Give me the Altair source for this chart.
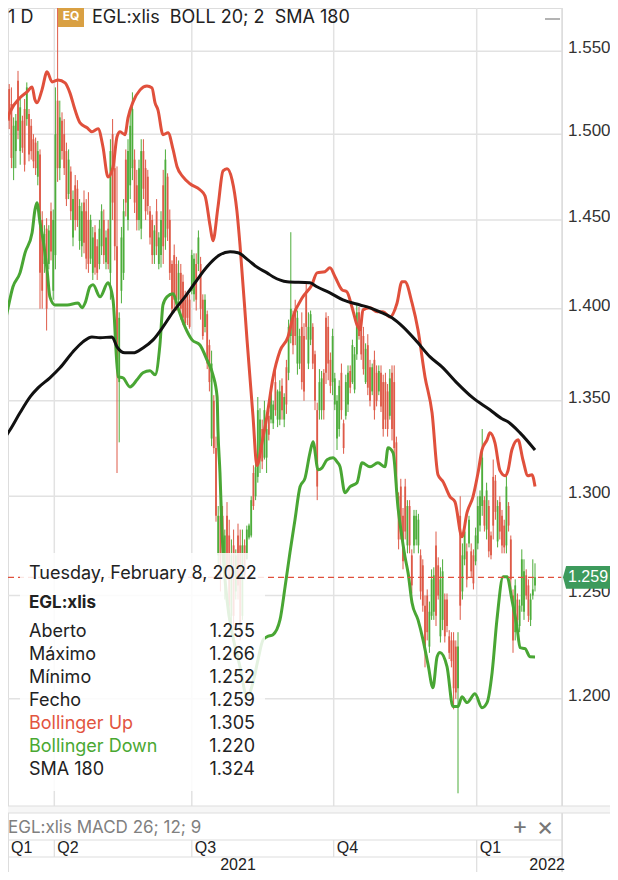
import altair as alt
import pandas as pd

# ---------------- data ----------------
OPEN = [1.505, 1.500, 1.520, 1.512, 1.527, 1.518, 1.480, 1.490, 1.532, 1.490,
        1.508, 1.515, 1.509, 1.512, 1.505, 1.497, 1.495, 1.475, 1.488, 1.450,
        1.425, 1.445, 1.425, 1.455, 1.410, 1.430, 1.520, 1.480, 1.508, 1.500,
        1.490, 1.465, 1.478, 1.440, 1.470, 1.468, 1.438, 1.435, 1.460, 1.455,
        1.450, 1.428, 1.420, 1.443, 1.435, 1.425, 1.435, 1.450, 1.426, 1.445,
        1.420, 1.500, 1.480, 1.435, 1.360, 1.410, 1.420, 1.485, 1.450, 1.470,
        1.480, 1.485, 1.470, 1.450, 1.445, 1.490, 1.480, 1.475, 1.455, 1.450,
        1.430, 1.455, 1.425, 1.430, 1.470, 1.440, 1.475, 1.450, 1.425, 1.430,
        1.425, 1.405, 1.420, 1.415, 1.405, 1.408, 1.405, 1.410, 1.408, 1.425,
        1.425, 1.425, 1.405, 1.390, 1.397, 1.380, 1.330, 1.350, 1.325, 1.270,
        1.290, 1.290, 1.255, 1.290, 1.280, 1.240, 1.275, 1.252, 1.280, 1.275,
        1.240, 1.275, 1.268, 1.279, 1.280, 1.312, 1.300, 1.310, 1.320, 1.335,
        1.320, 1.320, 1.342, 1.340, 1.338, 1.360, 1.340, 1.340, 1.358, 1.340,
        1.368, 1.365, 1.385, 1.395, 1.400, 1.370, 1.370, 1.390, 1.385, 1.410,
        1.370, 1.383, 1.390, 1.375, 1.345, 1.345, 1.345, 1.365, 1.395, 1.390,
        1.372, 1.360, 1.348, 1.330, 1.335, 1.365, 1.338, 1.342, 1.348, 1.366,
        1.360, 1.356, 1.375, 1.398, 1.390, 1.385, 1.360, 1.380, 1.368, 1.355,
        1.372, 1.365, 1.355, 1.365, 1.360, 1.360, 1.355, 1.342, 1.365, 1.360,
        1.328, 1.300, 1.305, 1.290, 1.305, 1.275, 1.295, 1.270, 1.275, 1.278,
        1.275, 1.270, 1.265, 1.245, 1.250, 1.225, 1.240, 1.242, 1.275, 1.265,
        1.230, 1.238, 1.248, 1.248, 1.230, 1.228, 1.228, 1.225, 1.205, 1.290,
        1.252, 1.268, 1.272, 1.276, 1.272, 1.270, 1.267, 1.276, 1.285, 1.295,
        1.298, 1.283, 1.295, 1.280, 1.310, 1.308, 1.277, 1.297, 1.290, 1.285,
        1.275, 1.295, 1.278, 1.250, 1.232, 1.248, 1.235, 1.245, 1.242, 1.260,
        1.255, 1.238, 1.250, 1.255]
HIGH = [1.515, 1.585, 1.525, 1.522, 1.530, 1.528, 1.510, 1.512, 1.538, 1.521,
        1.511, 1.521, 1.531, 1.515, 1.509, 1.500, 1.498, 1.496, 1.491, 1.455,
        1.447, 1.451, 1.447, 1.460, 1.456, 1.528, 1.585, 1.520, 1.513, 1.509,
        1.495, 1.491, 1.481, 1.467, 1.476, 1.473, 1.462, 1.460, 1.467, 1.462,
        1.466, 1.453, 1.446, 1.447, 1.439, 1.450, 1.459, 1.456, 1.444, 1.450,
        1.497, 1.509, 1.491, 1.481, 1.398, 1.446, 1.462, 1.491, 1.497, 1.515,
        1.525, 1.491, 1.479, 1.485, 1.497, 1.497, 1.485, 1.479, 1.458, 1.453,
        1.447, 1.462, 1.443, 1.455, 1.479, 1.491, 1.477, 1.456, 1.427, 1.436,
        1.429, 1.427, 1.425, 1.419, 1.410, 1.410, 1.408, 1.433, 1.431, 1.431,
        1.444, 1.429, 1.408, 1.408, 1.399, 1.383, 1.377, 1.353, 1.331, 1.295,
        1.297, 1.295, 1.283, 1.297, 1.288, 1.278, 1.283, 1.273, 1.286, 1.283,
        1.283, 1.278, 1.285, 1.286, 1.300, 1.316, 1.319, 1.352, 1.346, 1.340,
        1.350, 1.340, 1.345, 1.358, 1.350, 1.367, 1.356, 1.361, 1.362, 1.354,
        1.372, 1.394, 1.443, 1.399, 1.405, 1.399, 1.389, 1.398, 1.392, 1.414,
        1.398, 1.399, 1.392, 1.377, 1.349, 1.367, 1.366, 1.367, 1.398, 1.396,
        1.376, 1.389, 1.365, 1.353, 1.361, 1.370, 1.340, 1.364, 1.369, 1.369,
        1.383, 1.379, 1.403, 1.401, 1.394, 1.390, 1.381, 1.386, 1.372, 1.370,
        1.377, 1.369, 1.369, 1.369, 1.364, 1.365, 1.359, 1.367, 1.369, 1.369,
        1.331, 1.302, 1.309, 1.294, 1.309, 1.298, 1.298, 1.273, 1.293, 1.293,
        1.291, 1.273, 1.268, 1.250, 1.253, 1.247, 1.263, 1.264, 1.282, 1.269,
        1.264, 1.268, 1.251, 1.251, 1.233, 1.232, 1.232, 1.228, 1.232, 1.300,
        1.276, 1.286, 1.276, 1.290, 1.276, 1.273, 1.284, 1.300, 1.303, 1.335,
        1.300, 1.307, 1.298, 1.282, 1.319, 1.311, 1.298, 1.300, 1.293, 1.288,
        1.311, 1.297, 1.280, 1.253, 1.258, 1.251, 1.248, 1.273, 1.268, 1.263,
        1.258, 1.251, 1.268, 1.266]
LOW = [1.462, 1.495, 1.488, 1.471, 1.503, 1.480, 1.473, 1.480, 1.497, 1.482,
       1.489, 1.478, 1.505, 1.484, 1.485, 1.480, 1.476, 1.470, 1.400, 1.400,
       1.420, 1.388, 1.422, 1.427, 1.405, 1.422, 1.472, 1.473, 1.485, 1.476,
       1.458, 1.462, 1.450, 1.435, 1.444, 1.446, 1.433, 1.429, 1.431, 1.422,
       1.420, 1.425, 1.416, 1.419, 1.416, 1.422, 1.430, 1.425, 1.422, 1.422,
       1.405, 1.450, 1.427, 1.312, 1.328, 1.403, 1.416, 1.452, 1.444, 1.462,
       1.473, 1.454, 1.444, 1.444, 1.439, 1.462, 1.450, 1.453, 1.436, 1.425,
       1.425, 1.430, 1.422, 1.423, 1.425, 1.433, 1.438, 1.416, 1.398, 1.398,
       1.399, 1.402, 1.394, 1.391, 1.390, 1.391, 1.389, 1.408, 1.404, 1.399,
       1.421, 1.394, 1.383, 1.387, 1.367, 1.355, 1.326, 1.322, 1.287, 1.264,
       1.252, 1.268, 1.248, 1.258, 1.238, 1.236, 1.233, 1.248, 1.248, 1.228,
       1.238, 1.258, 1.268, 1.278, 1.279, 1.293, 1.298, 1.307, 1.312, 1.314,
       1.319, 1.312, 1.329, 1.338, 1.335, 1.342, 1.336, 1.337, 1.340, 1.336,
       1.343, 1.361, 1.381, 1.375, 1.380, 1.364, 1.367, 1.356, 1.350, 1.383,
       1.367, 1.380, 1.367, 1.345, 1.298, 1.340, 1.340, 1.340, 1.359, 1.361,
       1.354, 1.353, 1.345, 1.324, 1.331, 1.340, 1.322, 1.340, 1.344, 1.354,
       1.359, 1.354, 1.372, 1.383, 1.372, 1.364, 1.359, 1.353, 1.347, 1.353,
       1.340, 1.347, 1.353, 1.344, 1.331, 1.335, 1.331, 1.340, 1.329, 1.319,
       1.302, 1.273, 1.278, 1.263, 1.278, 1.271, 1.271, 1.251, 1.271, 1.275,
       1.271, 1.248, 1.242, 1.215, 1.228, 1.222, 1.238, 1.238, 1.235, 1.248,
       1.227, 1.233, 1.227, 1.232, 1.219, 1.215, 1.195, 1.200, 1.156, 1.238,
       1.248, 1.265, 1.254, 1.274, 1.259, 1.253, 1.265, 1.273, 1.282, 1.290,
       1.282, 1.278, 1.269, 1.268, 1.278, 1.288, 1.274, 1.278, 1.271, 1.271,
       1.271, 1.282, 1.253, 1.222, 1.228, 1.235, 1.232, 1.242, 1.238, 1.248,
       1.237, 1.235, 1.248, 1.252]
CLOSE = [1.470, 1.560, 1.495, 1.478, 1.508, 1.486, 1.505, 1.508, 1.502, 1.516,
         1.492, 1.482, 1.528, 1.488, 1.490, 1.484, 1.480, 1.490, 1.420, 1.410,
         1.442, 1.400, 1.444, 1.432, 1.450, 1.500, 1.480, 1.510, 1.490, 1.480,
         1.462, 1.485, 1.455, 1.462, 1.450, 1.450, 1.458, 1.455, 1.437, 1.428,
         1.425, 1.450, 1.440, 1.423, 1.420, 1.445, 1.455, 1.430, 1.440, 1.425,
         1.490, 1.460, 1.435, 1.370, 1.395, 1.440, 1.455, 1.460, 1.490, 1.505,
         1.515, 1.460, 1.450, 1.480, 1.490, 1.468, 1.455, 1.458, 1.440, 1.430,
         1.444, 1.435, 1.440, 1.450, 1.435, 1.485, 1.445, 1.420, 1.400, 1.405,
         1.405, 1.420, 1.400, 1.395, 1.392, 1.395, 1.390, 1.430, 1.428, 1.405,
         1.440, 1.400, 1.385, 1.405, 1.370, 1.360, 1.370, 1.325, 1.290, 1.290,
         1.260, 1.270, 1.280, 1.262, 1.245, 1.270, 1.240, 1.270, 1.255, 1.235,
         1.275, 1.260, 1.283, 1.285, 1.298, 1.295, 1.315, 1.345, 1.340, 1.318,
         1.345, 1.335, 1.332, 1.355, 1.348, 1.345, 1.355, 1.355, 1.345, 1.352,
         1.348, 1.390, 1.400, 1.380, 1.385, 1.395, 1.385, 1.360, 1.355, 1.390,
         1.390, 1.397, 1.370, 1.350, 1.305, 1.360, 1.362, 1.345, 1.365, 1.370,
         1.358, 1.385, 1.362, 1.350, 1.358, 1.345, 1.325, 1.360, 1.365, 1.357,
         1.380, 1.375, 1.398, 1.385, 1.375, 1.367, 1.378, 1.357, 1.350, 1.368,
         1.345, 1.350, 1.366, 1.347, 1.335, 1.340, 1.335, 1.362, 1.335, 1.325,
         1.305, 1.278, 1.282, 1.267, 1.282, 1.295, 1.275, 1.255, 1.290, 1.290,
         1.288, 1.252, 1.245, 1.225, 1.232, 1.242, 1.258, 1.260, 1.240, 1.250,
         1.258, 1.262, 1.230, 1.235, 1.222, 1.218, 1.205, 1.203, 1.225, 1.245,
         1.270, 1.282, 1.258, 1.288, 1.262, 1.256, 1.280, 1.295, 1.300, 1.320,
         1.285, 1.303, 1.272, 1.270, 1.285, 1.292, 1.295, 1.282, 1.275, 1.274,
         1.305, 1.285, 1.258, 1.228, 1.255, 1.238, 1.245, 1.268, 1.262, 1.250,
         1.240, 1.248, 1.253, 1.259]

# Bollinger upper band (trading-day index, price)
UP_T = [0, 2.1, 4.4, 8.9, 12.1, 14.4, 15.7, 16.6, 18.9, 21.2, 23.5, 26.2, 29.4, 31.6, 33.9,
        36.2, 39.4, 41.6, 44.4, 46.6, 48.9, 51.2, 53.0, 54.4, 56.6, 58.0, 60.3, 63.5, 66.6,
        68.9, 70.3, 71.6, 73.9, 76.2, 78.5, 80.3, 83.0, 86.2, 90.7, 93.0, 95.3, 96.6, 98.9,
        101.2, 103.0, 105.3, 107.5, 108.9, 112.1, 114.8, 116.6, 118.9, 121.2, 123.9, 127.1,
        130.7, 133.0, 137.5, 141.6, 143.9, 147.5, 149.8, 152.1, 155.3, 157.5, 159.8, 162.1,
        163.5, 164.8, 168.0, 171.2, 173.9, 177.1, 180.3, 182.5, 183.9, 187.1, 189.8, 193.0,
        196.2, 198.9, 201.2, 204.4, 206.6, 209.8, 212.1, 214.8, 217.1, 218.9, 221.2, 222.5,
        224.8, 227.1, 229.4, 230.7, 232.5, 235.3, 237.5, 239.8, 241.6, 243.0]
UP_P = [1.4867, 1.5044, 1.5133, 1.5217, 1.5253, 1.5283, 1.5205, 1.5187, 1.5265, 1.5374,
        1.5313, 1.5325, 1.5307, 1.5247, 1.5145, 1.5067, 1.5038, 1.5014, 1.5032, 1.4926,
        1.4749, 1.4808, 1.4985, 1.5014, 1.4997, 1.5097, 1.5193, 1.5265, 1.5289, 1.5277,
        1.5187, 1.5145, 1.4997, 1.5008, 1.4908, 1.4808, 1.4749, 1.4709, 1.4674, 1.4639,
        1.4467, 1.4381, 1.4575, 1.4784, 1.4796, 1.4732, 1.4552, 1.4358, 1.3829, 1.3420,
        1.3158, 1.3277, 1.3420, 1.3623, 1.3769, 1.3845, 1.3955, 1.4066, 1.4133, 1.4200,
        1.4206, 1.4228, 1.4178, 1.4105, 1.4094, 1.4010, 1.3911, 1.3884, 1.3994, 1.4005,
        1.3983, 1.3983, 1.3955, 1.4032, 1.4150, 1.4150, 1.4032, 1.3884, 1.3628, 1.3436,
        1.3111, 1.3075, 1.2997, 1.2972, 1.2793, 1.2916, 1.2997, 1.3121, 1.3241, 1.3293,
        1.3330, 1.3277, 1.3132, 1.3106, 1.3132, 1.3241, 1.3293, 1.3189, 1.3106, 1.3111, 1.305]

# Bollinger lower band
LO_T = [0, 1.2, 3.0, 5.7, 8.9, 11.2, 14.4, 15.7, 16.6, 18.0, 19.4, 21.2, 22.5, 24.8, 30.3,
        35.3, 37.1, 38.5, 40.7, 42.1, 45.3, 48.9, 51.2, 53.5, 55.7, 58.9, 62.1, 64.8, 68.0,
        70.3, 72.5, 73.9, 75.7, 78.5, 80.7, 83.9, 87.1, 90.7, 93.9, 96.6, 98.5, 98.9, 99.8,
        100.7, 103.0, 105.7, 108.9, 112.1, 114.8, 117.1, 119.4, 121.2, 123.9, 127.1, 129.4,
        131.6, 133.9, 136.2, 138.5, 140.7, 142.1, 144.4, 146.2, 148.5, 151.2, 153.0, 154.4,
        156.6, 158.9, 162.1, 164.4, 168.0, 171.6, 174.8, 176.2, 178.5, 180.7, 182.5, 183.9,
        185.3, 187.1, 189.8, 192.1, 194.4, 196.6, 198.5, 199.8, 203.0, 205.7, 208.0, 209.8,
        212.1, 215.7, 218.9, 221.2, 223.5, 225.7, 228.5, 230.3, 232.5, 234.8, 236.2, 238.5,
        240.7, 243.0]
LO_P = [1.3955, 1.3873, 1.3977, 1.4122, 1.4200, 1.4313, 1.4427, 1.4558, 1.4599, 1.4484,
        1.4387, 1.4217, 1.4066, 1.4021, 1.4021, 1.4032, 1.4005, 1.4032, 1.4122, 1.4133,
        1.4066, 1.4144, 1.4049, 1.3628, 1.3623, 1.3574, 1.3612, 1.3650, 1.3661, 1.3639,
        1.3801, 1.4021, 1.4066, 1.4083, 1.4005, 1.3900, 1.3829, 1.3801, 1.3720, 1.3639,
        1.3521, 1.3341, 1.3121, 1.2829, 1.2479, 1.2298, 1.2153, 1.2010, 1.2077, 1.2187,
        1.2283, 1.2298, 1.2308, 1.2381, 1.2543, 1.2713, 1.2880, 1.3049, 1.3095, 1.3225,
        1.3283, 1.3137, 1.3147, 1.3189, 1.3199, 1.3178, 1.3152, 1.3018, 1.3049, 1.3070,
        1.3173, 1.3152, 1.3173, 1.3152, 1.3251, 1.3225, 1.2946, 1.2793, 1.2693, 1.2613,
        1.2464, 1.2381, 1.2283, 1.2163, 1.2053, 1.2201, 1.2221, 1.2153, 1.1963, 1.1963,
        1.2010, 1.1982, 1.2024, 1.1958, 1.1982, 1.2125, 1.2381, 1.2593, 1.2593, 1.2479,
        1.2347, 1.2245, 1.2240, 1.2201, 1.220]

# SMA 180
SMA_T = [0, 4.4, 8.9, 13.5, 17.1, 22.5, 27.1, 33.0, 37.5, 41.6, 45.3, 50.7, 53.0, 56.6,
         60.3, 64.8, 69.4, 73.9, 78.5, 83.9, 89.4, 93.9, 99.8, 104.4, 108.0, 112.5, 117.1,
         121.2, 123.9, 130.3, 140.7, 143.9, 149.8, 155.7, 163.5, 168.0, 172.5, 178.0, 183.0,
         189.4, 195.3, 200.7, 207.5, 214.8, 222.5, 228.0, 230.7, 236.2, 243.0]
SMA_P = [1.3272, 1.3346, 1.3436, 1.3521, 1.3569, 1.3623, 1.3677, 1.3764, 1.3818, 1.3845,
         1.3840, 1.3845, 1.3791, 1.3758, 1.3758, 1.3785, 1.3829, 1.3900, 1.3983, 1.4066,
         1.4161, 1.4234, 1.4302, 1.4319, 1.4313, 1.4273, 1.4228, 1.4200, 1.4178, 1.4150,
         1.4144, 1.4122, 1.4088, 1.4049, 1.4021, 1.4005, 1.3983, 1.3950, 1.3900, 1.3818,
         1.3736, 1.3682, 1.3596, 1.3515, 1.3452, 1.3404, 1.3388, 1.3330, 1.324]

Y_TICKS = [1.200, 1.250, 1.300, 1.350, 1.400, 1.450, 1.500, 1.550]
QTR_T = [24.5, 87.0, 151.5, 216.5]                 # first trading day of Q2, Q3, Q4, Q1
QTR_LABELS = ["Q1", "Q2", "Q3", "Q4", "Q1"]
QTR_LABEL_T = [3.5, 24.5, 87.0, 151.5, 216.5]
YEAR_LABELS = ["2021", "2022"]
YEAR_T = [108.0, 256.6]
LAST_PRICE = 1.259
TT_DATE = "Tuesday, February 8, 2022"
TT_SYMBOL = "EGL:xlis"
TT_LABELS = ["Aberto", "Máximo", "Mínimo", "Fecho", "Bollinger Up", "Bollinger Down", "SMA 180"]
TT_VALUES = ["1.255", "1.266", "1.252", "1.259", "1.305", "1.220", "1.324"]

# ---------------- styling ----------------
W, H = 554, 864
RIGHT = 48
MAIN_BOTTOM = 798
INTER = "Inter"
HELV = "Liberation Sans"
RED_LINE, GREEN_LINE = "#e0503c", "#49a634"
WICK_UP, WICK_DN = "#4dad3b", "#de5a48"
BODY_UP, BODY_DN = "#6cbd59", "#e7877b"
GRID = "#e2e2e2"

xs = alt.Scale(domain=[3.45, 255.27], nice=False, zero=False)
ys = alt.Scale(type="log", domain=[1.1206, 1.5767], nice=False, zero=False)


def X(f):
    return alt.X(f, type="quantitative", scale=xs, axis=None)


def Y(f):
    return alt.Y(f, type="quantitative", scale=ys, axis=None)


ONE = pd.DataFrame({"k": [0]})


def txt(s, x, y, size=16, color="#222222", align="left", weight="normal", font=INTER):
    return alt.Chart(ONE).mark_text(text=s, align=align, baseline="middle", fontSize=size,
                                    color=color, font=font, fontWeight=weight).encode(
        x=alt.value(x), y=alt.value(y))


def hrule(y, x1, x2, color="#dddddd", w=1.2):
    return alt.Chart(ONE).mark_rule(color=color, strokeWidth=w).encode(
        x=alt.value(x1), x2=alt.value(x2), y=alt.value(y))


candles = pd.DataFrame({"t": list(range(len(CLOSE))), "o": OPEN, "h": HIGH, "l": LOW, "c": CLOSE})
candles["dir"] = ["up" if c >= o else "down" for o, c in zip(OPEN, CLOSE)]
up_df = pd.DataFrame({"t": UP_T, "p": UP_P})
lo_df = pd.DataFrame({"t": LO_T, "p": LO_P})
sma_df = pd.DataFrame({"t": SMA_T, "p": SMA_P})
ticks_df = pd.DataFrame({"p": Y_TICKS, "lab": [f"{v:.3f}" for v in Y_TICKS]})
q_df = pd.DataFrame({"t": QTR_T})
ql_df = pd.DataFrame({"t": QTR_LABEL_T, "lab": QTR_LABELS})
last_df = pd.DataFrame({"p": [LAST_PRICE], "lab": [f"{LAST_PRICE:.3f}"]})

layers = []
# band fill: grey from upper band down, then white from lower band down
layers.append(alt.Chart(up_df).mark_area(color="#f0f0f0", clip=True, interpolate="monotone").encode(
    x=X("t"), y=Y("p"), y2=alt.value(MAIN_BOTTOM)))
layers.append(alt.Chart(lo_df).mark_area(color="#ffffff", clip=True, interpolate="monotone").encode(
    x=X("t"), y=Y("p"), y2=alt.value(MAIN_BOTTOM)))
# grid
layers.append(alt.Chart(ticks_df).mark_rule(color=GRID, strokeWidth=1.5).encode(
    y=Y("p"), x=alt.value(0), x2=alt.value(W)))
layers.append(alt.Chart(q_df).mark_rule(color=GRID, strokeWidth=1.5).encode(
    x=X("t"), y=alt.value(0), y2=alt.value(MAIN_BOTTOM)))
# candles
dir_scale = alt.Scale(domain=["up", "down"], range=[WICK_UP, WICK_DN])
body_scale = alt.Scale(domain=["up", "down"], range=[BODY_UP, BODY_DN])
layers.append(alt.Chart(candles).mark_rule(strokeWidth=1, clip=True).encode(
    x=X("t"), y=Y("l"), y2="h", color=alt.Color("dir:N", scale=dir_scale, legend=None)))
layers.append(alt.Chart(candles).mark_rule(strokeWidth=1.8, clip=True).encode(
    x=X("t"), y=Y("o"), y2="c", color=alt.Color("dir:N", scale=body_scale, legend=None)))
# indicator lines
layers.append(alt.Chart(up_df).mark_line(color=RED_LINE, strokeWidth=3, clip=True, interpolate="monotone").encode(
    x=X("t"), y=Y("p")))
layers.append(alt.Chart(lo_df).mark_line(color=GREEN_LINE, strokeWidth=3, clip=True, interpolate="monotone").encode(
    x=X("t"), y=Y("p")))
layers.append(alt.Chart(sma_df).mark_line(color="#111111", strokeWidth=3, clip=True, interpolate="monotone").encode(
    x=X("t"), y=Y("p")))
# last price dashed line
layers.append(alt.Chart(last_df).mark_rule(color=RED_LINE, strokeWidth=1.3, strokeDash=[6, 4]).encode(
    y=Y("p"), x=alt.value(0), x2=alt.value(W)))

# right border and price labels
layers.append(alt.Chart(ONE).mark_rule(color="#dcdcdc", strokeWidth=1.5).encode(
    x=alt.value(W), y=alt.value(0), y2=alt.value(H)))
layers.append(alt.Chart(ticks_df).mark_text(align="left", baseline="middle", dy=-3, font=HELV,
                                            fontSize=17, color="#333333").encode(
    y=Y("p"), x=alt.value(W + 6), text="lab:N"))

# tooltip box
layers.append(alt.Chart(ONE).mark_rect(color="#ffffff", opacity=0.85).encode(
    x=alt.value(12), x2=alt.value(257), y=alt.value(545), y2=alt.value(783)))
layers.append(txt(TT_DATE, 21, 566, size=18))
layers.append(txt(TT_SYMBOL, 21, 595, size=17, weight="bold"))
row_colors = ["#222222"] * 4 + ["#e2553f", "#4aa832", "#222222"]
for k, (lab, val) in enumerate(zip(TT_LABELS, TT_VALUES)):
    yy = 624 + 23 * k
    layers.append(txt(lab, 21, yy, size=18, color=row_colors[k]))
    layers.append(txt(val, 247, yy, size=18, align="right"))

# header
layers.append(txt("1 D", 0, 10, size=18))
layers.append(alt.Chart(ONE).mark_rect(color="#d9a043").encode(
    x=alt.value(50), x2=alt.value(76), y=alt.value(0), y2=alt.value(19)))
layers.append(txt("EQ", 63, 8, size=12, color="#ffffff", align="center", weight="bold"))
layers.append(txt("EGL:xlis\u00a0\u00a0BOLL 20; 2\u00a0\u00a0SMA 180", 84, 10, size=18))
layers.append(hrule(11, 537, 552, color="#9a9a9a", w=1.5))

# last price badge
badge_shape = "M-1,0 L-0.88,-0.44 L1,-0.44 L1,0.44 L-0.88,0.44 Z"
layers.append(alt.Chart(last_df).mark_point(shape=badge_shape, size=2704, filled=True,
                                            color="#3d9a5c", opacity=1, strokeWidth=0).encode(
    y=Y("p"), x=alt.value(W + 27)))
layers.append(alt.Chart(last_df).mark_text(align="left", baseline="middle", color="#ffffff",
                                           font=HELV, fontSize=16).encode(
    y=Y("p"), x=alt.value(W + 6), text="lab:N"))

# bottom: MACD strip, quarter row and year row
layers.append(alt.Chart(ONE).mark_rect(color="#f6f6f6").encode(
    x=alt.value(0), x2=alt.value(W + RIGHT), y=alt.value(MAIN_BOTTOM), y2=alt.value(805)))
layers.append(hrule(MAIN_BOTTOM, 0, W + RIGHT))
layers.append(hrule(805, 0, W + RIGHT))
layers.append(txt("EGL:xlis MACD 26; 12; 9", 0, 820, size=17, color="#808080"))
layers.append(txt("+", 512, 819, size=24, color="#777777", align="center"))
layers.append(txt("×", 537, 819, size=26, color="#777777", align="center"))
layers.append(hrule(832, 0, W))
layers.append(hrule(849, 0, W))
layers.append(alt.Chart(q_df).mark_rule(color="#dddddd", strokeWidth=1.2).encode(
    x=X("t"), y=alt.value(832), y2=alt.value(849)))
layers.append(alt.Chart(q_df.tail(1)).mark_rule(color="#dddddd", strokeWidth=1.2).encode(
    x=X("t"), y=alt.value(849), y2=alt.value(H)))
layers.append(alt.Chart(ql_df).mark_text(align="left", baseline="middle", dx=3, font=HELV,
                                         fontSize=16, color="#222222").encode(
    x=X("t"), y=alt.value(840), text="lab:N"))
year_df = pd.DataFrame({"t": YEAR_T, "lab": YEAR_LABELS})
layers.append(alt.Chart(year_df.head(1)).mark_text(align="center", baseline="middle", font=HELV,
                                                   fontSize=16, color="#222222").encode(
    x=X("t"), y=alt.value(857), text="lab:N"))
layers.append(alt.Chart(year_df.tail(1)).mark_text(align="right", baseline="middle", font=HELV,
                                                   fontSize=16, color="#222222").encode(
    x=X("t"), y=alt.value(857), text="lab:N"))

chart = alt.layer(*layers).properties(
    width=W, height=H,
    autosize=alt.AutoSizeParams(type="none"),
    padding={"left": 0, "top": 0, "right": RIGHT, "bottom": 0},
).configure_view(stroke=None).configure(background="#ffffff")

chart.save("out.html", embed_options={"renderer": "svg", "actions": False})
